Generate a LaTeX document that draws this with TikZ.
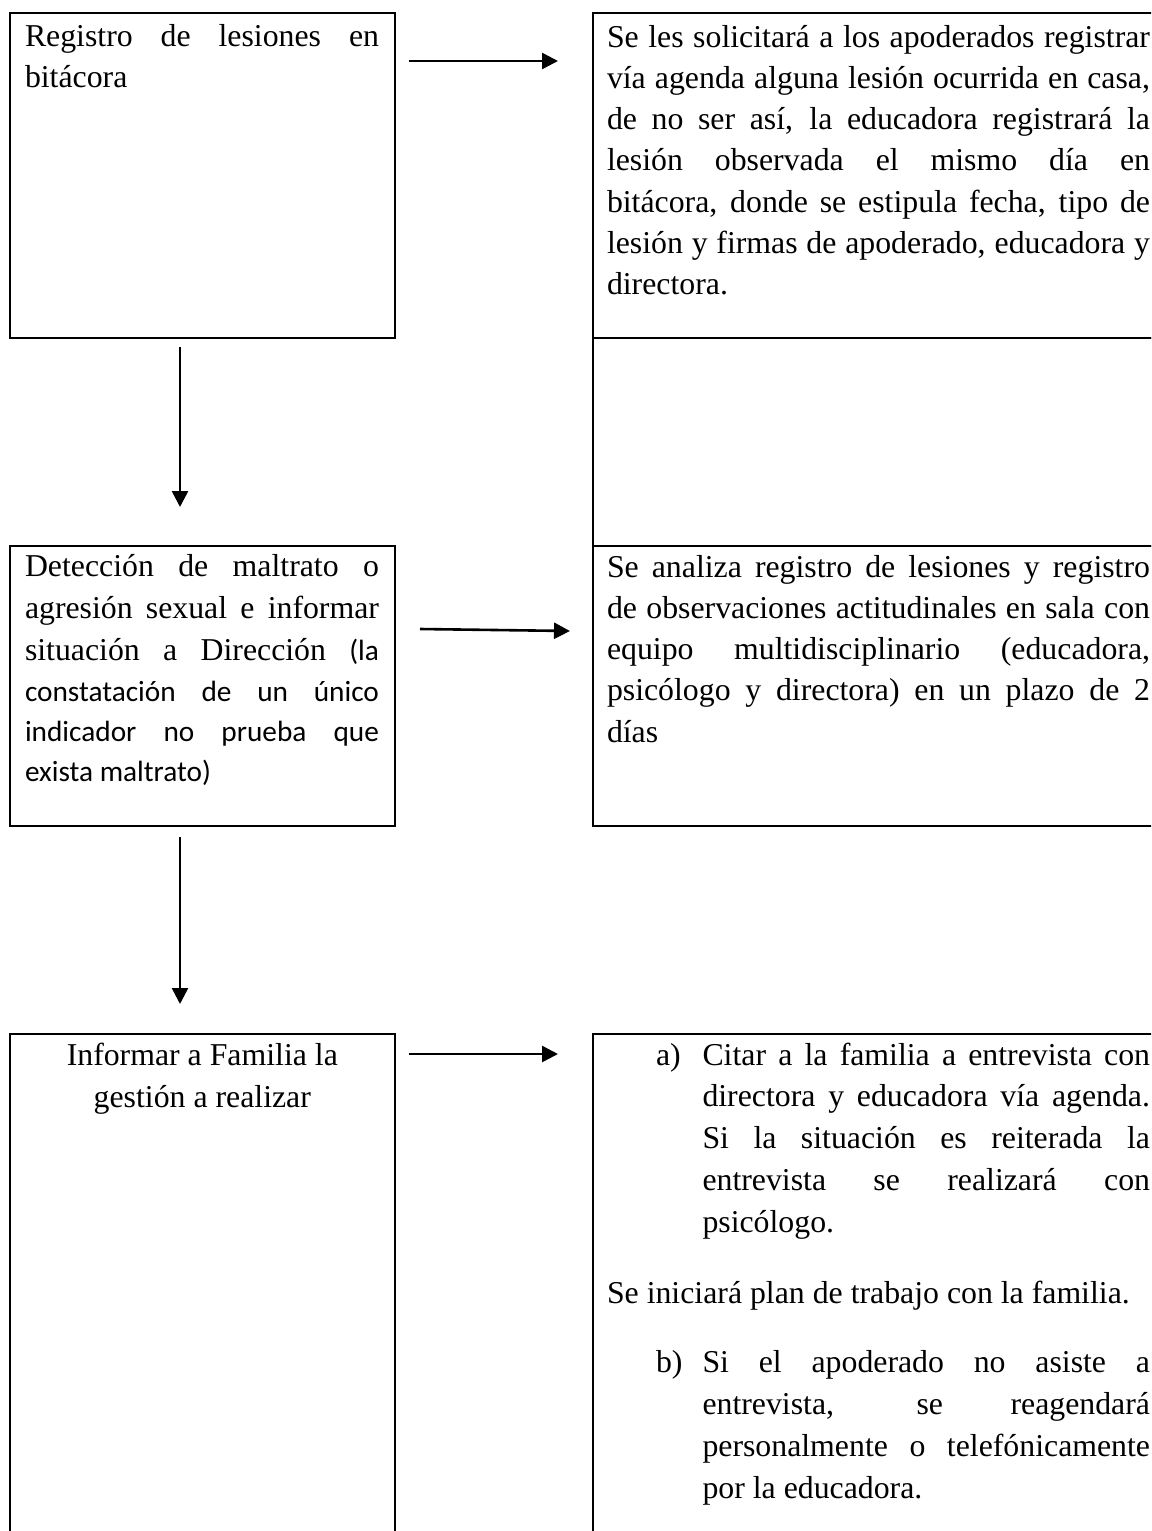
\documentclass[tikz,border=0pt]{standalone}
\usepackage{fontspec}
\setmainfont{Liberation Serif}
\newfontfamily\carl{Carlito}
\usetikzlibrary{arrows.meta}
\newcommand{\serifsz}{\fontsize{31.8pt}{40pt}\selectfont}
\newcommand{\calsz}{\carl\fontsize{29.3pt}{36pt}\selectfont}
\newcommand{\jl}[2]{\makebox[#1pt][s]{#2}}
\tikzset{
  box/.style={draw, line width=2.2pt, rectangle, inner sep=0pt, outer sep=0pt, anchor=north west},
  arr/.style={line width=2.6pt, -{Triangle[length=16pt,width=16pt]}},
  tl/.style={anchor=base west, inner sep=0pt, outer sep=0pt, font=\serifsz},
  tc/.style={anchor=base, inner sep=0pt, outer sep=0pt, font=\serifsz},
  tlc/.style={anchor=base west, inner sep=0pt, outer sep=0pt, font=\calsz},
}
\begin{document}
\begin{tikzpicture}[x=1pt,y=-1pt]
\useasboundingbox (0,0) rectangle (1151,1531);
\clip (0,0) rectangle (1151,1531);
\fill[white] (0,0) rectangle (1151,1531);
% boxes
\node[box, minimum width=385.4pt, minimum height=325.3pt] (L1) at (9.6,12.7) {};
\node[box, minimum width=385.4pt, minimum height=280pt] (L2) at (9.6,546) {};
\node[box, minimum width=385.4pt, minimum height=530pt] (L3) at (9.6,1034) {};
\node[box, minimum width=580pt, minimum height=325.3pt] (R1) at (593,12.7) {};
\node[box, minimum width=580pt, minimum height=208pt] (R0) at (593,338) {};
\node[box, minimum width=580pt, minimum height=280pt] (R2) at (593,546) {};
\node[box, minimum width=580pt, minimum height=530pt] (R3) at (593,1034) {};
% arrows
\coordinate (a1s) at (409,61);  \coordinate (a1e) at (558,61);
\coordinate (a2s) at (420,629); \coordinate (a2e) at (570,631);
\coordinate (a3s) at (409,1054); \coordinate (a3e) at (558,1054);
\coordinate (v1s) at (180,347); \coordinate (v1e) at (180,507);
\coordinate (v2s) at (180,837); \coordinate (v2e) at (180,1004);
\draw[arr] (a1s) -- (a1e);
\draw[arr] (a2s) -- (a2e);
\draw[arr] (a3s) -- (a3e);
\draw[arr] (v1s) -- (v1e);
\draw[arr] (v2s) -- (v2e);
% left box 1
\node[tl] (l1a) at (25,46) {\jl{354}{Registro de lesiones en}};
\node[tl] (l1b) at (25,87) {bitácora};
% right box 1
\node[tl] (r1a) at (607,47)    {\jl{543}{Se les solicitará a los apoderados registrar}};
\node[tl] (r1b) at (607,88.3)  {\jl{543}{vía agenda alguna lesión ocurrida en casa,}};
\node[tl] (r1c) at (607,129.6) {\jl{543}{de no ser así, la educadora registrará la}};
\node[tl] (r1d) at (607,170.9) {\jl{543}{lesión observada el mismo día en}};
\node[tl] (r1e) at (607,212.2) {\jl{543}{bitácora, donde se estipula fecha, tipo de}};
\node[tl] (r1f) at (607,253.5) {\jl{543}{lesión y firmas de apoderado, educadora y}};
\node[tl] (r1g) at (607,294.8) {directora.};
% left box 2
\node[tl] (l2a) at (25,576) {\jl{354}{Detección de maltrato o}};
\node[tl] (l2b) at (25,618) {\jl{354}{agresión sexual e informar}};
\node[tl] (l2c) at (25,660) {\jl{354}{situación a Dirección {\calsz(la}}};
\node[tlc] (l2d) at (25,701) {\jl{354}{constatación de un único}};
\node[tlc] (l2e) at (25,741) {\jl{354}{indicador no prueba que}};
\node[tlc] (l2f) at (25,781) {exista maltrato)};
% right box 2
\node[tl] (r2a) at (607,577)   {\jl{543}{Se analiza registro de lesiones y registro}};
\node[tl] (r2b) at (607,618.3) {\jl{543}{de observaciones actitudinales en sala con}};
\node[tl] (r2c) at (607,659.6) {\jl{543}{equipo multidisciplinario (educadora,}};
\node[tl] (r2d) at (607,700.9) {\jl{543}{psicólogo y directora) en un plazo de 2}};
\node[tl] (r2e) at (607,742.2) {días};
% left box 3
\node[tc] (l3a) at (202.3,1065) {Informar a Familia la};
\node[tc] (l3b) at (202.3,1107) {gestión a realizar};
% right box 3
\node[tl] (r3la) at (656,1065) {a)};
\node[tl] (r3a) at (702.5,1065)   {\jl{447.5}{Citar a la familia a entrevista con}};
\node[tl] (r3b) at (702.5,1106.8) {\jl{447.5}{directora y educadora vía agenda.}};
\node[tl] (r3c) at (702.5,1148.6) {\jl{447.5}{Si la situación es reiterada la}};
\node[tl] (r3d) at (702.5,1190.4) {\jl{447.5}{entrevista se realizará con}};
\node[tl] (r3e) at (702.5,1232.2) {psicólogo.};
\node[tl] (r3f) at (607,1303) {Se iniciará plan de trabajo con la familia.};
\node[tl] (r3lb) at (656,1372) {b)};
\node[tl] (r3g) at (702.5,1372) {\jl{447.5}{Si el apoderado no asiste a}};
\node[tl] (r3h) at (702.5,1414) {\jl{447.5}{entrevista, se reagendará}};
\node[tl] (r3i) at (702.5,1456) {\jl{447.5}{personalmente o telefónicamente}};
\node[tl] (r3j) at (702.5,1498) {por la educadora.};
\end{tikzpicture}
\end{document}
